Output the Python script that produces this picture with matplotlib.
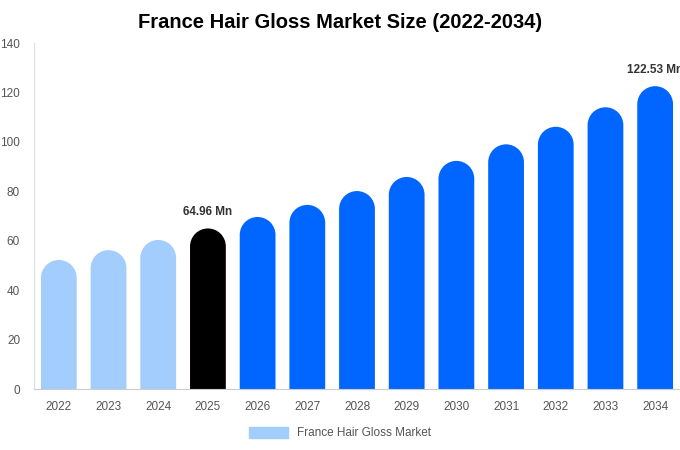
import matplotlib
matplotlib.use("Agg")
import numpy as np
import matplotlib.pyplot as plt
from matplotlib.patches import PathPatch, Patch
from matplotlib.path import Path
from matplotlib.transforms import Affine2D

plt.rcParams['font.family'] = ['Liberation Sans', 'DejaVu Sans']

years = ['2022', '2023', '2024', '2025', '2026', '2027', '2028',
         '2029', '2030', '2031', '2032', '2033', '2034']
values = [52.2, 56.2, 60.3, 64.96, 69.6, 74.5, 80.1,
          85.8, 92.3, 99.0, 106.1, 114.0, 122.53]
colors = ['#a3cdfc'] * 3 + ['#000000'] + ['#0066ff'] * 9
labels = {3: '64.96 Mn', 12: '122.53 Mn'}

fig = plt.figure(figsize=(6.8, 4.5), dpi=100)
ax = fig.add_axes([34 / 680, 61 / 450, 646 / 680, 346 / 450])
ax.set_xlim(-0.5, len(years) - 0.5)
ax.set_ylim(0, 140)

# rounded caps: half of bar width in pixels converted to y data units
bar_w = 0.72
px_per_x = 646 / len(years)
px_per_y = 346 / 140
cap_h = (bar_w / 2) * px_per_x / px_per_y


def rounded_bar(x, v, w, h):
    arc = Path.arc(0, 180).transformed(
        Affine2D().scale(w / 2, h).translate(x, v - h))
    verts = np.vstack([[[x + w / 2, 0]], arc.vertices,
                       [[x - w / 2, 0], [x + w / 2, 0]]])
    codes = ([Path.MOVETO] + [Path.LINETO] + list(arc.codes[1:])
             + [Path.LINETO, Path.CLOSEPOLY])
    return Path(verts, codes)


for i, (v, c) in enumerate(zip(values, colors)):
    ax.add_patch(PathPatch(rounded_bar(i, v, bar_w, cap_h), facecolor=c,
                           edgecolor='none', zorder=2))
    if i in labels:
        ax.text(i, v + 4.2, labels[i], ha='center', va='bottom',
                fontsize=8.5, fontweight='bold', color='#333333')

ax.set_xticks(range(len(years)))
ax.set_xticklabels(years)
ax.set_yticks(range(0, 141, 20))
ax.tick_params(axis='both', length=0, labelsize=8.5, colors='#555555')
ax.tick_params(axis='x', pad=9)
ax.tick_params(axis='y', pad=10)

for side in ['top', 'right']:
    ax.spines[side].set_visible(False)
ax.spines['left'].set_color('#e0e0e0')
ax.spines['bottom'].set_color('#cccccc')

fig.suptitle('France Hair Gloss Market Size (2022-2034)', x=0.5, y=0.97,
             fontsize=14.5, fontweight='bold', color='#000000')

fig.legend(handles=[Patch(color='#a3cdfc', label='France Hair Gloss Market')],
           loc='lower center', bbox_to_anchor=(0.5, 0.0), frameon=False,
           fontsize=8.5, handlelength=3.3, handleheight=1.0,
           labelcolor='#555555')

fig.savefig('out.png', dpi=100)
